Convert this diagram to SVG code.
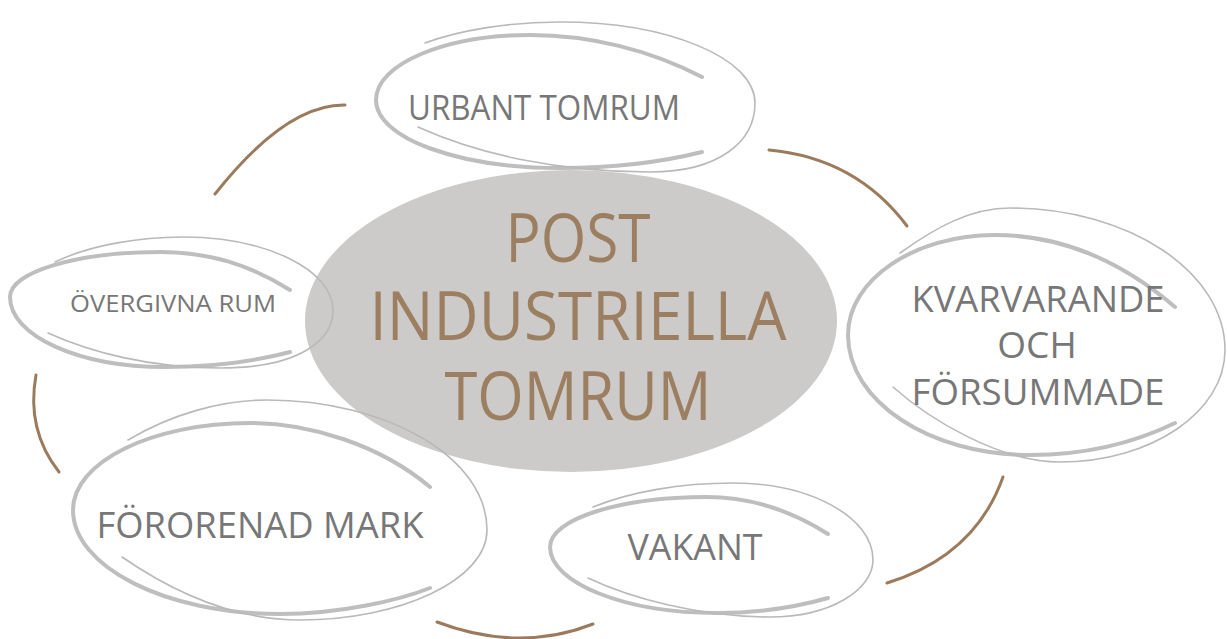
<svg xmlns="http://www.w3.org/2000/svg" width="1227" height="639" viewBox="0 0 1227 639">
<style>
.thick{fill:none;stroke:#BEBEBE;stroke-width:4;stroke-linecap:round}
.thin{fill:none;stroke:#B9B9B9;stroke-width:1.6;stroke-linecap:round}
.lbl{font-family:"Open Sans","Noto Sans",sans-serif;fill:#777777;text-anchor:middle}
.ctr{font-family:"Open Sans","Noto Sans",sans-serif;fill:#9C7F61;text-anchor:middle;font-size:68px}
.conn{fill:none;stroke:#9B7B5C;stroke-width:3;stroke-linecap:round}
</style>
<rect width="1227" height="639" fill="#FFFFFF"/>
<g id="connectors">
<path class="conn" d="M 345 105 Q 286 104 215 194"/>
<path class="conn" d="M 769 150 Q 856 158 907 226"/>
<path class="conn" d="M 1003 477 Q 975 556 887 583"/>
<path class="conn" d="M 593 624 Q 519 653 437 622"/>
<path class="conn" d="M 36 375 Q 26 430 59 472"/>
</g>
<g id="center">
<ellipse cx="571" cy="321" rx="266" ry="151" fill="#CDCBC9"/>
</g>
<g id="urbant-tomrum">
<path class="thick" d="M 702 77 C 650 50 590 35 530 35 C 445 35 376 64 376 100 C 376 138 458 168 560 168 C 620 168 670 160 702 152"/>
<path class="thin" d="M 425 43 C 460 30 510 22 560 22 C 668 22 755 58 755 103 C 755 141 720 172 650 172 C 560 172 480 155 418 127"/>
<text class="lbl" x="544" y="120" font-size="34" textLength="272" lengthAdjust="spacingAndGlyphs">URBANT TOMRUM</text>
</g>
<g id="kvarvarande">
<path class="thick" d="M 1175 307 C 1120 260 1060 235 995 235 C 914 235 848 280 848 335 C 848 401 929 455 1030 455 C 1090 455 1140 440 1175 423"/>
<path class="thin" d="M 900 253 C 935 228 970 208 1010 208 C 1129 208 1225 272 1225 350 C 1225 412 1151 462 1060 462 C 1000 462 930 420 893 387"/>
<text class="lbl" font-size="37"><tspan x="1038" y="312" textLength="253" lengthAdjust="spacingAndGlyphs">KVARVARANDE</tspan><tspan x="1037" y="358">OCH</tspan><tspan x="1038" y="405" textLength="253" lengthAdjust="spacingAndGlyphs">FÖRSUMMADE</tspan></text>
</g>
<g id="overgivna-rum">
<path class="thick" d="M 290 290 C 250 265 210 252 160 252 C 77 252 10 272 10 297 C 10 336 79 367 165 367 C 215 367 260 360 290 352"/>
<path class="thin" d="M 55 262 C 90 245 140 237 183 237 C 266 237 333 270 333 310 C 333 340 300 368 220 368 C 150 368 90 352 48 333"/>
<text class="lbl" x="173" y="312" font-size="24" textLength="206" lengthAdjust="spacingAndGlyphs">ÖVERGIVNA RUM</text>
</g>
<g id="fororenad-mark">
<path class="thick" d="M 430 487 C 380 445 310 423 250 423 C 152 423 73 462 73 510 C 73 567 166 614 280 614 C 340 614 400 600 430 588"/>
<path class="thin" d="M 128 440 C 170 415 220 400 267 400 C 388 400 487 458 487 530 C 487 580 400 620 300 620 C 230 620 170 590 122 557"/>
<text class="lbl" x="260" y="538" font-size="36" textLength="327" lengthAdjust="spacingAndGlyphs">FÖRORENAD MARK</text>
</g>
<g id="vakant">
<path class="thick" d="M 828 534 C 790 510 750 497 707 497 C 620 497 550 519 550 547 C 550 583 625 613 717 613 C 760 613 800 606 828 598"/>
<path class="thin" d="M 593 507 C 630 492 680 483 733 483 C 810 483 873 517 873 560 C 873 590 830 617 770 617 C 700 617 630 598 588 578"/>
<text class="lbl" x="695" y="560" font-size="37" textLength="135" lengthAdjust="spacingAndGlyphs">VAKANT</text>
</g>
<g id="center-label">
<text class="ctr" x="578" y="262" textLength="145" lengthAdjust="spacingAndGlyphs">POST</text>
<text class="ctr" x="578" y="340" textLength="417" lengthAdjust="spacingAndGlyphs">INDUSTRIELLA</text>
<text class="ctr" x="578" y="420" textLength="267" lengthAdjust="spacingAndGlyphs">TOMRUM</text>
</g>
</svg>
